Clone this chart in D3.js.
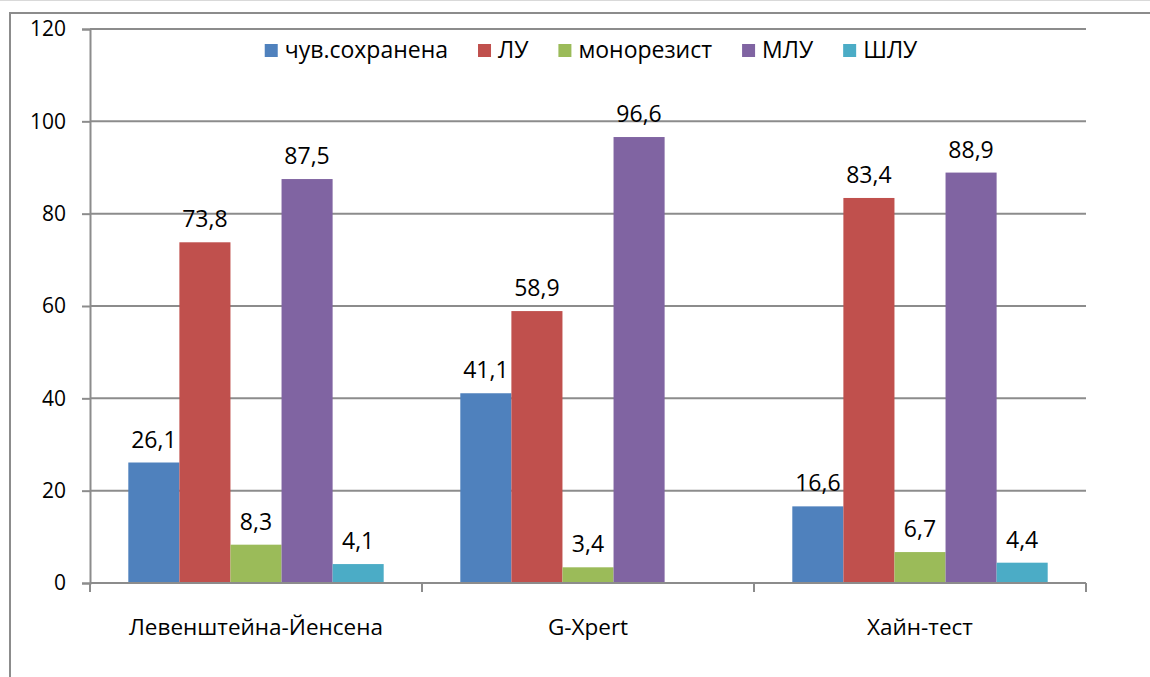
<!DOCTYPE html>
<html>
<head>
<meta charset="utf-8">
<script src="https://cdn.jsdelivr.net/npm/d3@7"></script>
<style>
  html, body { margin: 0; background: #fff; overflow: hidden; }
  svg { display: block; }
  svg text { font-family: "Open Sans", "Noto Sans", sans-serif; fill: #000; }
</style>
</head>
<body>
<svg id="chart"></svg>
<script>
// Data
const categories = ["Левенштейна-Йенсена", "G-Xpert", "Хайн-тест"];
const seriesNames = ["чув.сохранена", "ЛУ", "монорезист", "МЛУ", "ШЛУ"];
const seriesColors = ["#4F81BD", "#C0504D", "#9BBB59", "#8064A2", "#4BACC6"];
const valuesSensitive = [26.1, 41.1, 16.6];
const valuesLU = [73.8, 58.9, 83.4];
const valuesMono = [8.3, 3.4, 6.7];
const valuesMLU = [87.5, 96.6, 88.9];
const valuesSHLU = [4.1, null, 4.4];
const yTicks = [0, 20, 40, 60, 80, 100, 120];

const seriesValues = [valuesSensitive, valuesLU, valuesMono, valuesMLU, valuesSHLU];

const width = 1150;
const height = 677;
const margin = { top: 29, right: 64, bottom: 94, left: 90 };

const svg = d3.select("#chart")
    .attr("width", width)
    .attr("height", height);

// Outer chart frame (only top and left edges fall inside the picture)
svg.append("line")
    .attr("x1", 0).attr("x2", width)
    .attr("y1", 0.5).attr("y2", 0.5)
    .attr("stroke", "#d9d9d9").attr("stroke-width", 1);
svg.append("path")
    .attr("d", `M10,${height}V13H${width}`)
    .attr("fill", "none")
    .attr("stroke", "#8c8c8c")
    .attr("stroke-width", 2);

// Scales
const x0 = d3.scaleBand()
    .domain(categories)
    .range([margin.left, width - margin.right])
    .paddingInner(0).paddingOuter(0);

const x1 = d3.scaleBand()
    .domain(seriesNames)
    .range([0, x0.bandwidth()])
    .paddingInner(0).paddingOuter(0.75);

const y = d3.scaleLinear()
    .domain([0, 120])
    .range([height - margin.bottom, margin.top]);

// Gridlines
svg.append("g")
    .selectAll("line")
    .data(yTicks.filter(d => d > 0))
    .join("line")
    .attr("x1", margin.left).attr("x2", width - margin.right)
    .attr("y1", d => y(d)).attr("y2", d => y(d))
    .attr("stroke", "#8c8c8c")
    .attr("stroke-width", 2);

// Bars
const groups = svg.append("g")
    .selectAll("g")
    .data(categories)
    .join("g")
    .attr("transform", d => `translate(${x0(d)},0)`);

const barData = (c, ci) => seriesNames.map((s, si) => ({ s, si, v: seriesValues[si][ci] }))
    .filter(d => d.v != null);

groups.each(function(c, ci) {
    const g = d3.select(this);
    const data = barData(c, ci);
    g.selectAll("rect")
        .data(data)
        .join("rect")
        .attr("x", d => x1(d.s))
        .attr("width", x1.bandwidth())
        .attr("y", d => y(d.v))
        .attr("height", d => y(0) - y(d.v))
        .attr("fill", d => seriesColors[d.si]);
    g.selectAll("text")
        .data(data)
        .join("text")
        .attr("x", d => x1(d.s) + x1.bandwidth() / 2)
        .attr("y", d => y(d.v) - 15)
        .attr("text-anchor", "middle")
        .style("font-size", "23px")
        .text(d => String(d.v).replace(".", ","));
});

// Y axis
const yAxis = svg.append("g")
    .attr("transform", `translate(${margin.left},0)`)
    .call(d3.axisLeft(y).tickValues(yTicks).tickSize(8).tickFormat(d3.format("d")));
yAxis.select(".domain").attr("stroke", "#8c8c8c").attr("stroke-width", 2);
yAxis.selectAll(".tick line").attr("stroke", "#8c8c8c").attr("stroke-width", 2);
yAxis.selectAll(".tick text")
    .attr("x", -24)
    .style("font-size", "21px")
    .style("font-family", "'Open Sans', sans-serif");

// X axis
const xAxis = svg.append("g")
    .attr("transform", `translate(0,${y(0)})`);
xAxis.append("line")
    .attr("x1", margin.left).attr("x2", width - margin.right)
    .attr("y1", 0).attr("y2", 0)
    .attr("stroke", "#8c8c8c").attr("stroke-width", 2);
const boundaries = categories.map(c => x0(c)).concat([x0(categories[categories.length - 1]) + x0.bandwidth()]);
xAxis.selectAll("line.tk")
    .data(boundaries)
    .join("line")
    .attr("class", "tk")
    .attr("x1", d => d).attr("x2", d => d)
    .attr("y1", 0).attr("y2", 9)
    .attr("stroke", "#8c8c8c").attr("stroke-width", 2);
xAxis.selectAll("text")
    .data(categories)
    .join("text")
    .attr("x", d => x0(d) + x0.bandwidth() / 2)
    .attr("y", 52)
    .attr("text-anchor", "middle")
    .style("font-size", "22.5px")
    .text(d => d);

// Legend
const legend = svg.append("g").attr("transform", "translate(0,50)");
const items = legend.selectAll("g")
    .data(seriesNames)
    .join("g");
items.append("rect")
    .attr("width", 13).attr("height", 13)
    .attr("y", -6)
    .attr("fill", (d, i) => seriesColors[i]);
items.append("text")
    .attr("x", 20)
    .attr("dy", "0.35em")
    .style("font-size", "23px")
    .text(d => d);
let cursor = 0;
const itemX = [];
items.each(function() {
    itemX.push(cursor);
    cursor += 20 + this.querySelector("text").getComputedTextLength() + 30;
});
const legendWidth = cursor - 30;
const legendStart = 591 - legendWidth / 2;
items.attr("transform", (d, i) => `translate(${legendStart + itemX[i]},0)`);
</script>
</body>
</html>
